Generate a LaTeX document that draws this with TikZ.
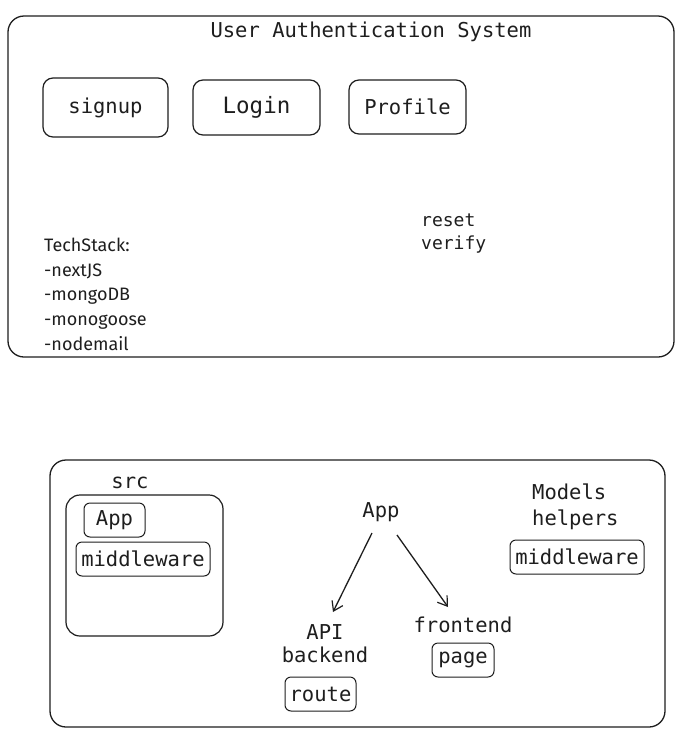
\documentclass[tikz,border=0pt]{standalone}
\usepackage{fontspec}
\usetikzlibrary{arrows.meta}
\newfontfamily\monof{DejaVu Sans Mono}
\newfontfamily\handf{Fira Sans}
\definecolor{ink}{HTML}{1E1E1E}
\begin{document}
\begin{tikzpicture}[x=1pt,y=-1pt,
  outerbox/.style={draw=ink,line width=1.3pt,rounded corners=16pt},
  bigbtn/.style={draw=ink,line width=1.2pt,rounded corners=10pt,inner sep=0pt},
  smallbox/.style={draw=ink,line width=1pt,rounded corners=6pt,inner sep=0pt},
  lbl/.style={text=ink,inner sep=0pt,font=\monof\fontsize{20.5}{24}\selectfont},
  hand/.style={text=ink,inner sep=0pt,anchor=base west,font=\handf\fontsize{18}{21}\selectfont},
  arr/.style={draw=ink,line width=1.3pt,-{Straight Barb[length=9pt,width=12pt,line width=1.2pt]}}]
\useasboundingbox (0,0) rectangle (684,732);
\fill[white] (0,0) rectangle (684,732);
% top frame
\node[outerbox,minimum width=666pt,minimum height=341pt] (top) at (341,186.5) {};
\node[lbl] (title) at (371,32) {User Authentication System};
\node[bigbtn,minimum width=125pt,minimum height=59pt,lbl] (signup) at (105.5,107.5) {signup};
\node[bigbtn,minimum width=127pt,minimum height=55pt,lbl,font=\monof\fontsize{22.5}{26}\selectfont] (login) at (256.5,107.5) {Login};
\node[bigbtn,minimum width=117pt,minimum height=54pt,lbl] (profile) at (407.5,107) {Profile};
\node[lbl,anchor=west,font=\monof\fontsize{18}{21}\selectfont] (reset) at (421,220) {reset};
\node[lbl,anchor=west,font=\monof\fontsize{18}{21}\selectfont] (verify) at (421,245) {verify};
\node[hand] (ts) at (44,251) {TechStack:};
\node[hand] (t1) at (44,276) {-nextJS};
\node[hand] (t2) at (44,300) {-mongoDB};
\node[hand] (t3) at (44,325) {-monogoose};
\node[hand] (t4) at (44,350) {-nodemail};
% bottom frame
\node[outerbox,minimum width=615pt,minimum height=267pt] (bottom) at (357.5,593.5) {};
\node[lbl] (srclbl) at (130,483) {src};
\node[draw=ink,line width=1.2pt,rounded corners=14pt,minimum width=157pt,minimum height=141pt,inner sep=0pt] (src) at (144.5,565.5) {};
\node[smallbox,minimum width=61pt,minimum height=34pt,lbl] (srcapp) at (114.5,520) {App};
\node[smallbox,minimum width=134pt,minimum height=34pt,lbl] (srcmw) at (143,559) {middleware};
\node[lbl] (app) at (381,512) {App};
\node[lbl,align=center] (api) at (325,644) {API\\[-1pt]backend};
\node[smallbox,minimum width=71pt,minimum height=34pt,lbl] (route) at (320.5,694) {route};
\node[lbl] (frontend) at (463,625) {frontend};
\node[smallbox,minimum width=62pt,minimum height=34pt,lbl] (page) at (463,660) {page};
\node[lbl,align=left,anchor=west] (models) at (532,507) {Models\\[2pt]helpers};
\node[smallbox,minimum width=134pt,minimum height=34pt,lbl] (mw) at (577,557) {middleware};
\coordinate (a1s) at (372,533);
\coordinate (a1e) at (333,612);
\coordinate (a2s) at (397,535);
\coordinate (a2e) at (448,607);
\draw[arr] (a1s) -- (a1e);
\draw[arr] (a2s) -- (a2e);
\end{tikzpicture}
\end{document}
